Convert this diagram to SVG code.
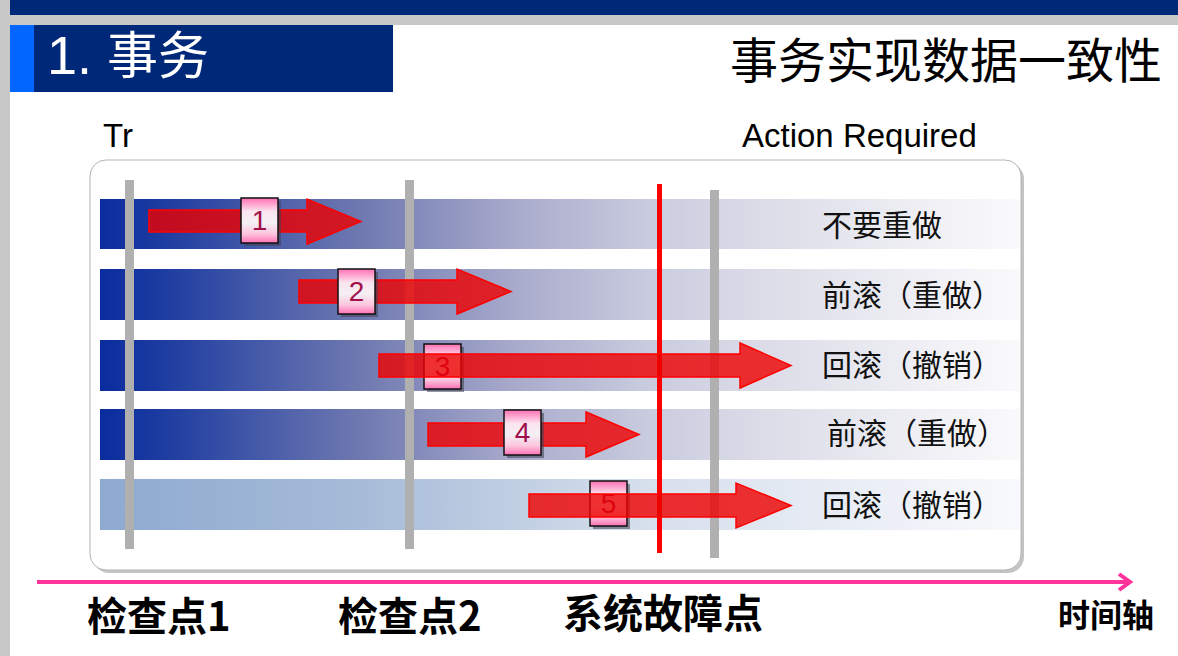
<svg xmlns="http://www.w3.org/2000/svg" width="1178" height="656" viewBox="0 0 1178 656">
  <defs>
    <linearGradient id="gDark" gradientUnits="userSpaceOnUse" x1="100" y1="0" x2="1020" y2="0">
      <stop offset="0" stop-color="#0a2c9e"/>
      <stop offset="0.06" stop-color="#1a3aa0"/>
      <stop offset="0.28" stop-color="#6e78b0"/>
      <stop offset="0.45" stop-color="#a8aacb"/>
      <stop offset="0.59" stop-color="#c8cade"/>
      <stop offset="0.72" stop-color="#dcdce8"/>
      <stop offset="1" stop-color="#fafafc"/>
    </linearGradient>
    <linearGradient id="gLight" gradientUnits="userSpaceOnUse" x1="100" y1="0" x2="1020" y2="0">
      <stop offset="0" stop-color="#8eaad0"/>
      <stop offset="0.28" stop-color="#a6bbd8"/>
      <stop offset="0.59" stop-color="#d6dfec"/>
      <stop offset="1" stop-color="#f8f9fc"/>
    </linearGradient>
    <linearGradient id="gBox" x1="0" y1="0" x2="0" y2="1">
      <stop offset="0" stop-color="#ff70b4"/>
      <stop offset="0.3" stop-color="#fbe4ef"/>
      <stop offset="0.55" stop-color="#f4f0f4"/>
      <stop offset="0.8" stop-color="#fcc4de"/>
      <stop offset="1" stop-color="#ff70b4"/>
    </linearGradient>
  </defs>
  <style>
    .bar-d { fill: url(#gDark); }
    .bar-l { fill: url(#gLight); }
    .gline { fill: #b0b0b0; }
    .arrow { fill: #ee0000; fill-opacity: 0.8; stroke: #ff0000; stroke-width: 1.5; }
    .box { fill: url(#gBox); stroke: #111; stroke-width: 1.5; }
    .shadow { fill: #404050; fill-opacity: 0.55; }
    .num { font-family: "Liberation Sans", Arial, sans-serif; font-size: 28px; fill: #a0104a; text-anchor: middle; }
    .lbl { font-family: "Noto Sans CJK SC", sans-serif; font-size: 30px; fill: #111; }
    .axis { font-family: "Noto Sans CJK SC", sans-serif; font-weight: 700; fill: #000; }
  </style>

  <g id="background">
    <rect x="0" y="0" width="1178" height="656" fill="#ffffff"/>
    <rect x="0" y="0" width="10" height="656" fill="#c8c8c8"/>
    <rect x="10" y="0" width="1168" height="15" fill="#002878"/>
    <rect x="10" y="15" width="1168" height="10" fill="#c8c8c8"/>
  </g>

  <g id="title-box">
    <rect x="10" y="25" width="383" height="67" fill="#002878"/>
    <rect x="10" y="25" width="24" height="67" fill="#0066ff"/>
    <text x="47" y="74" font-family="Liberation Sans, Noto Sans CJK SC, sans-serif" fill="#ffffff"><tspan font-size="54">1. </tspan><tspan font-size="51" font-family="Noto Sans CJK SC, sans-serif">事务</tspan></text>
  </g>

  <g id="heading">
    <text x="1162" y="78" text-anchor="end" font-family="Noto Sans CJK SC, sans-serif" font-size="48" fill="#000">事务实现数据一致性</text>
  </g>

  <g id="col-headers">
    <text x="103" y="147" font-family="Liberation Sans, Arial, sans-serif" font-size="33" fill="#000">Tr</text>
    <text x="742" y="147" font-family="Liberation Sans, Arial, sans-serif" font-size="33" fill="#000">Action Required</text>
  </g>

  <g id="panel">
    <rect x="93" y="163" width="931" height="410" rx="16" fill="#c4c4c4"/>
    <rect x="90" y="160" width="931" height="410" rx="16" fill="#ffffff" stroke="#b4b4b4" stroke-width="1"/>
  </g>

  <g id="rows">
    <rect class="bar-d" x="100" y="199" width="920" height="50"/>
    <rect class="bar-d" x="100" y="269" width="920" height="51"/>
    <rect class="bar-d" x="100" y="340" width="920" height="51"/>
    <rect class="bar-d" x="100" y="409" width="920" height="51"/>
    <rect class="bar-l" x="100" y="479" width="920" height="51"/>
  </g>

  <g id="timelines">
    <rect class="gline" x="125" y="180" width="9" height="369"/>
    <rect class="gline" x="405" y="180" width="9" height="369"/>
    <rect class="gline" x="710" y="190" width="9" height="368"/>
    <rect id="failure-line" x="657" y="184" width="5" height="369" fill="#ff0000"/>
  </g>

  <g id="row-labels">
    <text class="lbl" x="822" y="236">不要重做</text>
    <text class="lbl" x="822" y="306">前滚（重做）</text>
    <text class="lbl" x="822" y="376">回滚（撤销）</text>
    <text class="lbl" x="827" y="444">前滚（重做）</text>
    <text class="lbl" x="822" y="516">回滚（撤销）</text>
  </g>

  <g id="tx3-box">
    <rect class="shadow" x="427" y="347" width="37" height="45"/>
    <rect class="box" x="424" y="344" width="37" height="45"/>
    <text class="num" x="442.5" y="376">3</text>
  </g>
  <g id="tx5-box">
    <rect class="shadow" x="593" y="484" width="37" height="45"/>
    <rect class="box" x="590" y="481" width="37" height="45"/>
    <text class="num" x="608.5" y="513">5</text>
  </g>

  <g id="connectors">
    <path id="tx1-arrow" class="arrow" d="M149,210 H307 V199 L361,221.5 L307,244 V232 H149 Z"/>
    <path id="tx2-arrow" class="arrow" d="M299,280 H457 V269 L511,291.5 L457,314 V303 H299 Z"/>
    <path id="tx3-arrow" class="arrow" d="M379,354 H740 V343 L791,365.5 L740,388 V377 H379 Z"/>
    <path id="tx4-arrow" class="arrow" d="M428,423 H586 V412 L639,434.5 L586,457 V446 H428 Z"/>
    <path id="tx5-arrow" class="arrow" d="M529,494 H736 V483 L791,505.5 L736,528 V517 H529 Z"/>
  </g>

  <g id="tx1-box">
    <rect class="shadow" x="244" y="201" width="37" height="45"/>
    <rect class="box" x="241" y="198" width="37" height="45"/>
    <text class="num" x="259.5" y="230">1</text>
  </g>
  <g id="tx2-box">
    <rect class="shadow" x="341" y="272" width="37" height="45"/>
    <rect class="box" x="338" y="269" width="37" height="45"/>
    <text class="num" x="356.5" y="301">2</text>
  </g>
  <g id="tx4-box">
    <rect class="shadow" x="507" y="413" width="37" height="45"/>
    <rect class="box" x="504" y="410" width="37" height="45"/>
    <text class="num" x="522.5" y="442">4</text>
  </g>

  <g id="time-axis">
    <line x1="37" y1="582" x2="1128" y2="582" stroke="#ff3399" stroke-width="4"/>
    <polyline points="1119,574 1130,582 1119,590" fill="none" stroke="#ff3399" stroke-width="4" stroke-linejoin="miter"/>
    <text class="axis" x="87" y="631" font-size="40">检查点1</text>
    <text class="axis" x="338" y="631" font-size="40">检查点2</text>
    <text class="axis" x="563" y="628" font-size="40">系统故障点</text>
    <text class="axis" x="1058" y="627" font-size="32">时间轴</text>
  </g>
</svg>
